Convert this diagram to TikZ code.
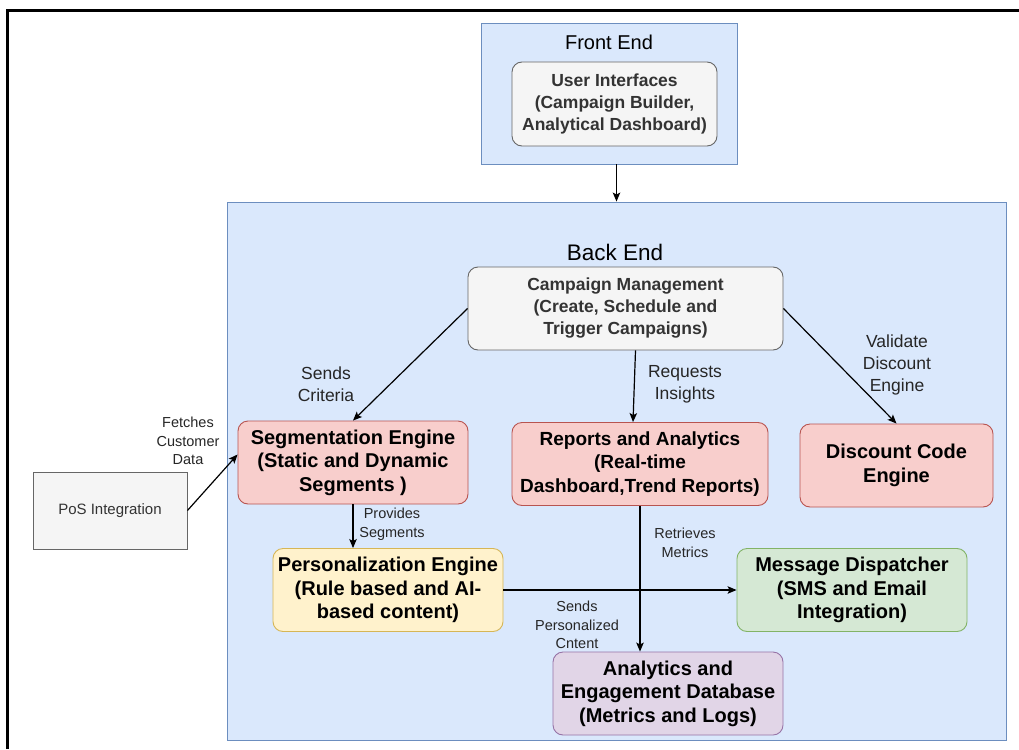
\documentclass[tikz,border=0pt]{standalone}
\usepackage{fontspec}
\setmainfont{Liberation Sans}
\usepackage{xcolor}
\usepackage{tikz}
\usetikzlibrary{shapes,arrows,arrows.meta,positioning,calc}
\definecolor{drawblue}{RGB}{218,232,252}
\definecolor{drawblueline}{RGB}{108,142,191}
\definecolor{drawgrey}{RGB}{245,245,245}
\definecolor{drawgreyline}{RGB}{102,102,102}
\definecolor{drawgreytext}{RGB}{51,51,51}
\definecolor{drawred}{RGB}{248,206,204}
\definecolor{drawredline}{RGB}{184,84,80}
\definecolor{drawyellow}{RGB}{255,242,204}
\definecolor{drawyellowline}{RGB}{214,182,86}
\definecolor{drawgreen}{RGB}{213,232,212}
\definecolor{drawgreenline}{RGB}{130,179,102}
\definecolor{drawpurple}{RGB}{225,213,231}
\definecolor{drawpurpleline}{RGB}{150,115,166}

\begin{document}
\begin{tikzpicture}[x=1pt, y=-1pt]
\tikzstyle{grp} = [rectangle, draw=drawblueline, fill=drawblue, line width=0.9pt, inner sep=0pt]
\tikzstyle{b} = [rectangle, draw, rounded corners=10pt, line width=0.9pt, align=center, inner sep=0pt, minimum width=230pt, minimum height=83pt, font=\fontsize{20}{23.5}\selectfont\bfseries]
\tikzstyle{gb} = [b, draw=drawgreyline, fill=drawgrey, text=drawgreytext, font=\fontsize{17.5}{22}\selectfont\bfseries]
\tikzstyle{lbl} = [align=center, inner sep=0pt, text=black!85, font=\fontsize{17.5}{22}\selectfont]
\tikzstyle{slbl} = [align=center, inner sep=0pt, text=black!85, font=\fontsize{14.5}{18.5}\selectfont]
\tikzstyle{a} = [->, line width=1.2pt, >={Stealth[length=9pt, width=7.5pt, inset=2pt]}]
\useasboundingbox (0,0) rectangle (1019,749);
% outer frame
\draw[line width=3.5pt] (7.5,749) -- (7.5,10.5) -- (1019,10.5);
% containers
\node[grp, minimum width=256pt, minimum height=141pt] (fe) at (609,93.5) {};
\node[grp, minimum width=779pt, minimum height=538pt] (be) at (616.5,471) {};
\node[lbl, text=black, font=\fontsize{20}{24}\selectfont] (fetitle) at (609,42) {Front End};
\node[lbl, text=black, font=\fontsize{22.5}{26}\selectfont] (betitle) at (615,252) {Back End};
% blocks
\node[gb, minimum width=205pt, minimum height=84pt] (ui) at (614.5,104) {User Interfaces\\(Campaign Builder,\\Analytical Dashboard)};
\node[gb, minimum width=315pt] (cm) at (625.5,308.5) {Campaign Management\\(Create, Schedule and\\Trigger Campaigns)};
\node[b, draw=drawredline, fill=drawred] (seg) at (353,462.5) {Segmentation Engine\\(Static and Dynamic\\Segments )};
\node[b, draw=drawredline, fill=drawred, minimum width=256pt, font=\fontsize{19}{23.5}\selectfont\bfseries] (rep) at (640,464) {Reports and Analytics\\(Real-time\\Dashboard,Trend Reports)};
\node[b, draw=drawredline, fill=drawred, minimum width=193pt] (disc) at (896.5,465.5) {Discount Code\\Engine};
\node[gb, sharp corners, minimum width=154pt, minimum height=77pt, font=\fontsize{15}{18}\selectfont] (pos) at (110,510.5) {PoS Integration};
\node[b, draw=drawyellowline, fill=drawyellow] (pers) at (388,590) {Personalization Engine\\(Rule based and AI-\\based content)};
\node[b, draw=drawgreenline, fill=drawgreen] (msg) at (852,590) {Message Dispatcher\\(SMS and Email\\Integration)};
\node[b, draw=drawpurpleline, fill=drawpurple] (db) at (668,693.5) {Analytics and\\Engagement Database\\(Metrics and Logs)};
% arrows
\draw[a] (be.north |- fe.south) -- (be.north);
\draw[a] (cm.west) -- (seg.north);
\draw[a] ([xshift=10pt]cm.south) -- ([xshift=-7pt]rep.north);
\draw[a] (cm.east) -- (disc.north);
\draw[a] (pos.east) -- ([yshift=8pt]seg.west);
\draw[a] (seg.south) -- (seg.south |- pers.north);
\draw[a] (pers.east) -- (msg.west);
\draw[a] (rep.south) -- (rep.south |- db.north);
% labels
\node[lbl] (lcrit) at (326,384) {Sends\\Criteria};
\node[slbl] (lfetch) at (188,441) {Fetches\\Customer\\Data};
\node[lbl] (lreq) at (685,384) {Requests\\Insights};
\node[lbl] (lval) at (897,365) {Validate\\Discount\\Engine};
\node[slbl] (lprov) at (392,524) {Provides\\Segments};
\node[slbl] (lret) at (685,543) {Retrieves\\Metrics};
\node[slbl] (lsend) at (577,625) {Sends\\Personalized\\Cntent};
\end{tikzpicture}
\end{document}
